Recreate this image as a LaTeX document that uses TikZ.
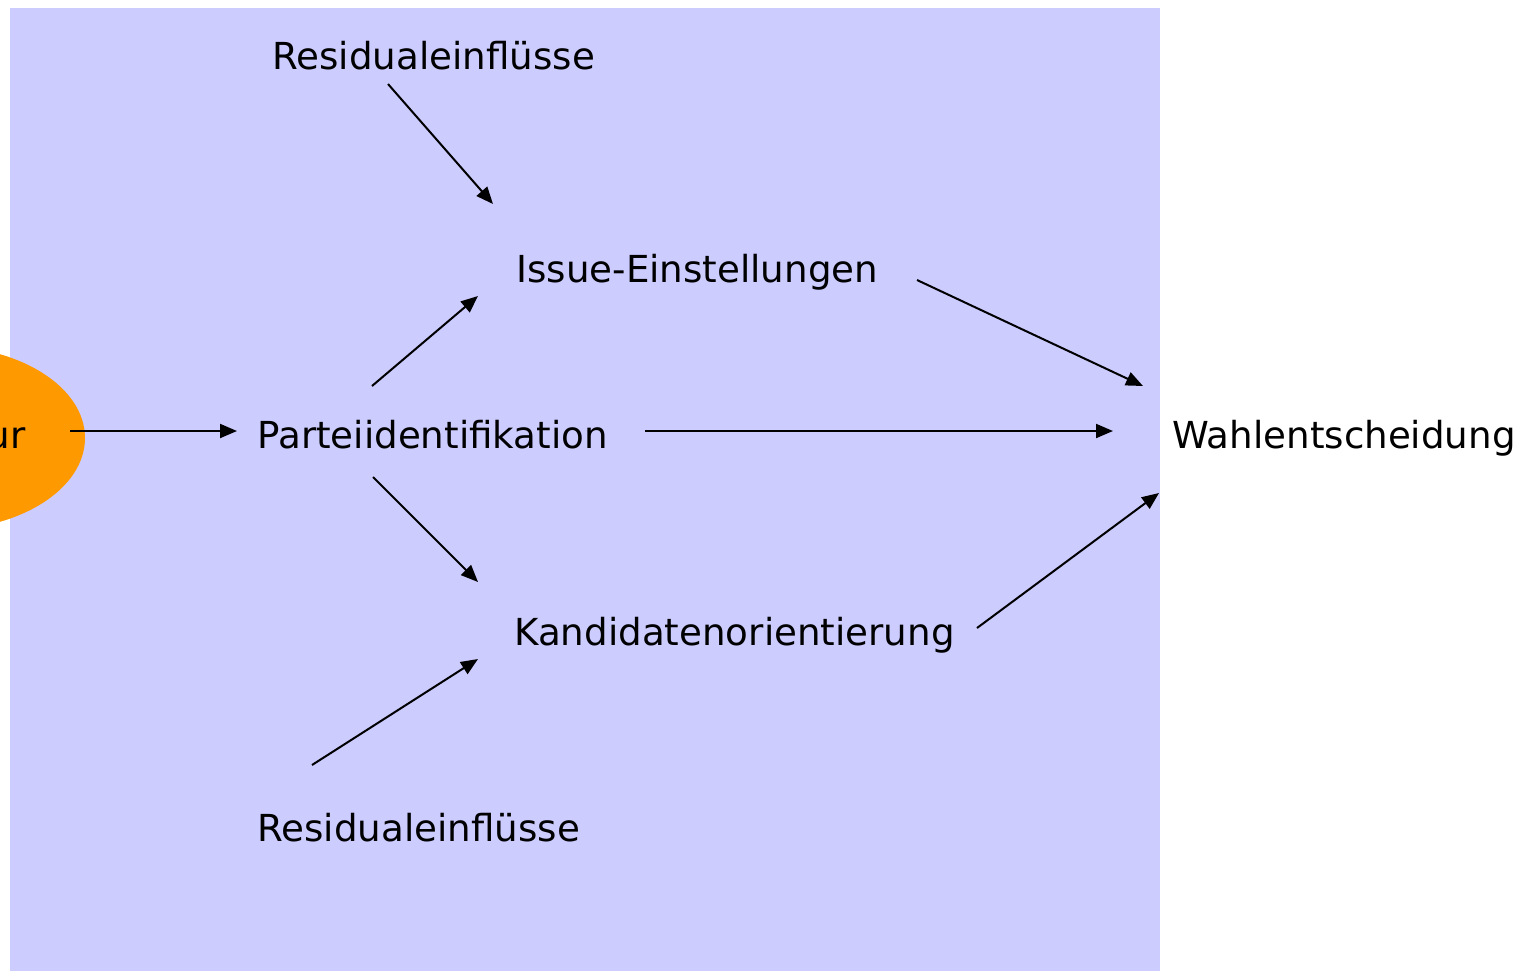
\documentclass[tikz,border=0pt]{standalone}
\usepackage{fontspec}
\setmainfont{DejaVu Sans}
\usetikzlibrary{arrows.meta}
\definecolor{lav}{HTML}{CCCCFF}
\definecolor{orng}{HTML}{FF9900}
\tikzset{
  lbl/.style={anchor=base west, inner sep=0pt, font=\fontsize{18.6}{21}\selectfont},
  arr/.style={line width=1pt, -{Triangle[length=8.5pt,width=7pt]}}
}
\begin{document}
\begin{tikzpicture}[x=0.5pt,y=-0.5pt]
\useasboundingbox (0,0) rectangle (1517,971);
\clip (0,0) rectangle (1517,971);
\fill[lav] (10,8) rectangle (1160,971);
\fill[orng] (-60,438) ellipse [x radius=145, y radius=92];
\node[lbl, anchor=base east] (ur) at (26,448) {ur};
\node[lbl] (res1) at (272,69) {Residualeinflüsse};
\node[lbl] (issue) at (516,282) {Issue-Einstellungen};
\node[lbl] (pid) at (257,448) {Parteiidentifikation};
\node[lbl] (wahl) at (1172,448) {Wahlentscheidung};
\node[lbl] (kand) at (514,645) {Kandidatenorientierung};
\node[lbl] (res2) at (257,841) {Residualeinflüsse};
% connector end points
\coordinate (a1s) at (388,84);  \coordinate (a1e) at (493,204);
\coordinate (a2s) at (372,386); \coordinate (a2e) at (478,296);
\coordinate (a3s) at (70,431);  \coordinate (a3e) at (237,431);
\coordinate (a4s) at (645,431); \coordinate (a4e) at (1113,431);
\coordinate (a5s) at (373,477); \coordinate (a5e) at (478,582);
\coordinate (a6s) at (312,765); \coordinate (a6e) at (478,659);
\coordinate (a7s) at (917,280); \coordinate (a7e) at (1143,386);
\coordinate (a8s) at (977,628); \coordinate (a8e) at (1159,493);
\draw[arr] (a1s) -- (a1e);
\draw[arr] (a2s) -- (a2e);
\draw[arr] (a3s) -- (a3e);
\draw[arr] (a4s) -- (a4e);
\draw[arr] (a5s) -- (a5e);
\draw[arr] (a6s) -- (a6e);
\draw[arr] (a7s) -- (a7e);
\draw[arr] (a8s) -- (a8e);
\end{tikzpicture}
\end{document}
